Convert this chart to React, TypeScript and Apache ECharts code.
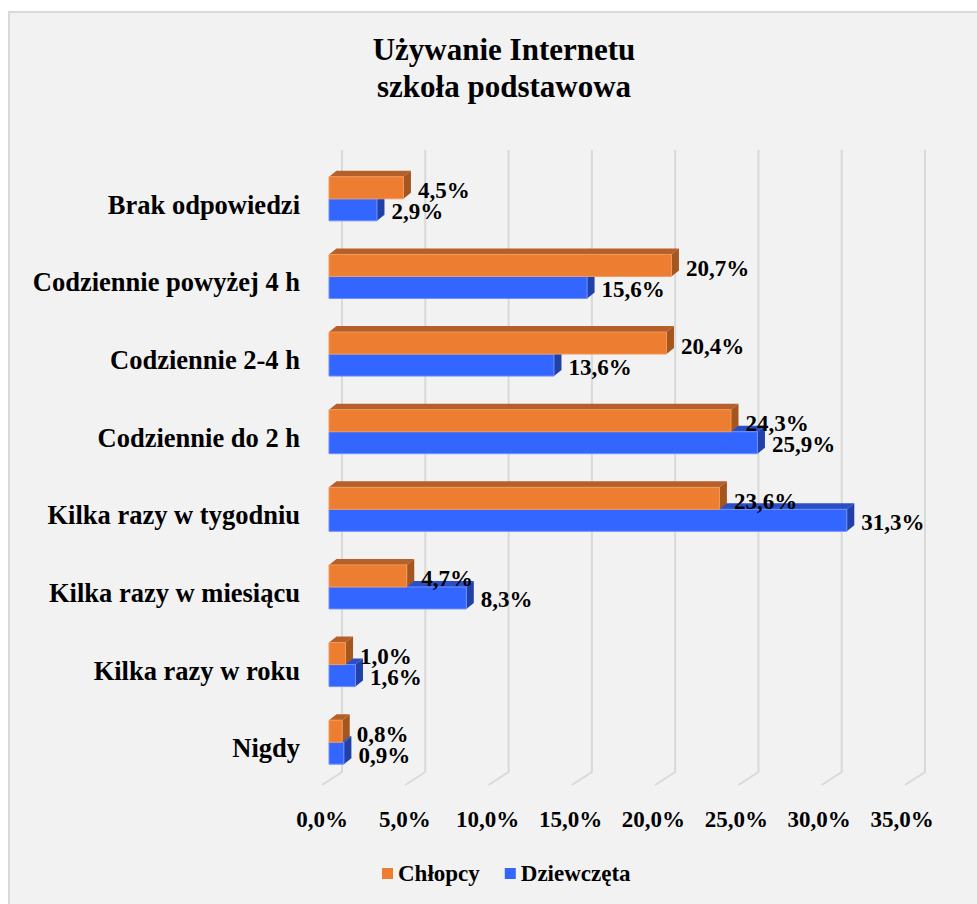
import React, { useEffect, useRef } from "react";
import * as echarts from "echarts";

const categories = [
  "Brak odpowiedzi",
  "Codziennie powyżej 4 h",
  "Codziennie 2-4 h",
  "Codziennie do 2 h",
  "Kilka razy w tygodniu",
  "Kilka razy w miesiącu",
  "Kilka razy w roku",
  "Nigdy",
];
const boys = [4.5, 20.7, 20.4, 24.3, 23.6, 4.7, 1.0, 0.8];
const girls = [2.9, 15.6, 13.6, 25.9, 31.3, 8.3, 1.6, 0.9];
const xTicks = [0, 5, 10, 15, 20, 25, 30, 35];
const seriesNames = ["Chłopcy", "Dziewczęta"];
const titleLines = ["Używanie Internetu", "szkoła podstawowa"];

const FONT = '"Liberation Serif", "Times New Roman", serif';
const fmt = (v: number) => v.toFixed(1).replace(".", ",") + "%";

const DX = 7.5;
const DY = -6;

function makeBarRender(kind: "boy" | "girl") {
  const front = kind === "boy" ? "#ED7D31" : "#3366FF";
  const edge = kind === "boy" ? "#F29A5C" : "#6F8FFF";
  const top = kind === "boy" ? "#B5602A" : "#2A4FC4";
  const side = kind === "boy" ? "#A5561F" : "#2141A8";
  return (params: any, api: any) => {
    const val = api.value(0);
    const idx = api.value(1);
    const s = api.coord([0, idx]);
    const e = api.coord([val, idx]);
    const band = api.size([0, 1])[1];
    const h = band * 0.2835;
    const y0 = kind === "boy" ? s[1] - h : s[1];
    const x0 = s[0];
    const x1 = e[0];
    return {
      type: "group",
      children: [
        {
          type: "polygon",
          shape: { points: [[x0, y0], [x0 + DX, y0 + DY], [x1 + DX, y0 + DY], [x1, y0]] },
          style: { fill: top },
        },
        {
          type: "polygon",
          shape: { points: [[x1, y0], [x1 + DX, y0 + DY], [x1 + DX, y0 + h + DY], [x1, y0 + h]] },
          style: { fill: side },
        },
        {
          type: "rect",
          shape: { x: x0, y: y0, width: x1 - x0, height: h },
          style: { fill: front, stroke: edge, lineWidth: 1 },
        },
        {
          type: "text",
          z2: 100,
          style: {
            text: fmt(val),
            x: x1 + DX + 7,
            y: y0 + h / 2 + (kind === "boy" ? 3 : 2),
            fill: "#000",
            font: `bold 23px ${FONT}`,
            align: "left",
            verticalAlign: "middle",
          },
        },
      ],
    };
  };
}

export default function App() {
  const ref = useRef<HTMLDivElement>(null);
  useEffect(() => {
    if (!ref.current) return;
    const chart = echarts.init(ref.current, null, { renderer: "svg" });
    const option: any = {
      animation: false,
      backgroundColor: "#F2F2F2",
      title: {
        text: titleLines.join("\n"),
        left: 491,
        top: 15,
        textAlign: "center",
        textStyle: {
          fontFamily: FONT,
          fontWeight: "bold",
          fontSize: 31,
          lineHeight: 37,
          color: "#000",
        },
      },
      legend: {
        data: seriesNames,
        left: 369,
        top: 846,
        itemWidth: 11,
        itemHeight: 11,
        itemGap: 25,
        icon: "rect",
        textStyle: { fontFamily: FONT, fontWeight: "bold", fontSize: 23, color: "#000" },
      },
      graphic: [
        { type: "rect", shape: { x: 0, y: 0, width: 969, height: 2 }, style: { fill: "#D9D9D9" }, silent: true },
        { type: "rect", shape: { x: 0, y: 0, width: 2, height: 893 }, style: { fill: "#D9D9D9" }, silent: true },
      ],
      grid: [
        { left: 321, top: 149, width: 579, height: 621 },
        { left: 334, top: 139, width: 583, height: 622 },
        { left: 314, top: 139, width: 580, height: 636 },
      ],
      xAxis: [
        { type: "value", gridIndex: 0, min: 0, max: 35, show: false },
        { type: "value", gridIndex: 1, min: 0, max: 35, show: false },
        {
          type: "value",
          gridIndex: 2,
          min: 0,
          max: 35,
          interval: 5,
          axisLine: { show: false },
          axisTick: { show: false },
          splitLine: { show: false },
          axisLabel: {
            margin: 22,
            formatter: (v: number) => fmt(v),
            fontFamily: FONT,
            fontWeight: "bold",
            fontSize: 23,
            color: "#000",
          },
        },
      ],
      yAxis: [
        {
          type: "category",
          gridIndex: 0,
          data: categories,
          inverse: true,
          axisLine: { show: false },
          axisTick: { show: false },
          splitLine: { show: false },
          axisLabel: {
            margin: 29,
            formatter: (v: string) => "{c|" + v + "}",
            rich: {
              c: {
                fontFamily: FONT,
                fontWeight: "bold",
                fontSize: 26.5,
                color: "#000",
                padding: [12, 0, 0, 0],
              },
            },
          },
        },
        { type: "value", gridIndex: 1, min: 0, max: 1, show: false },
        { type: "value", gridIndex: 2, min: 0, max: 1, show: false },
      ],
      series: [
        {
          type: "custom",
          name: "gridlines",
          xAxisIndex: 1,
          yAxisIndex: 1,
          silent: true,
          z: 1,
          data: xTicks.map((v) => [v, 0]),
          renderItem: (params: any, api: any) => {
            const v = api.value(0);
            const t = api.coord([v, 1]);
            const b = api.coord([v, 0]);
            return {
              type: "polyline",
              shape: { points: [[t[0], t[1]], [b[0], b[1]], [b[0] - 20, b[1] + 13]] },
              style: { stroke: "#D9D9D9", lineWidth: 2, fill: "none" },
            };
          },
        },
        {
          type: "custom",
          name: seriesNames[1],
          xAxisIndex: 0,
          yAxisIndex: 0,
          itemStyle: { color: "#3366FF" },
          encode: { x: 0, y: 1 },
          data: girls.map((v, i) => [v, i]),
          renderItem: makeBarRender("girl"),
        },
        {
          type: "custom",
          name: seriesNames[0],
          xAxisIndex: 0,
          yAxisIndex: 0,
          itemStyle: { color: "#ED7D31" },
          encode: { x: 0, y: 1 },
          data: boys.map((v, i) => [v, i]),
          renderItem: makeBarRender("boy"),
        },
      ],
    };
    chart.setOption(option);
    return () => chart.dispose();
  }, []);
  return (
    <div
      ref={ref}
      style={{ position: "absolute", left: 8, top: 11, width: 969, height: 893 }}
    />
  );
}
